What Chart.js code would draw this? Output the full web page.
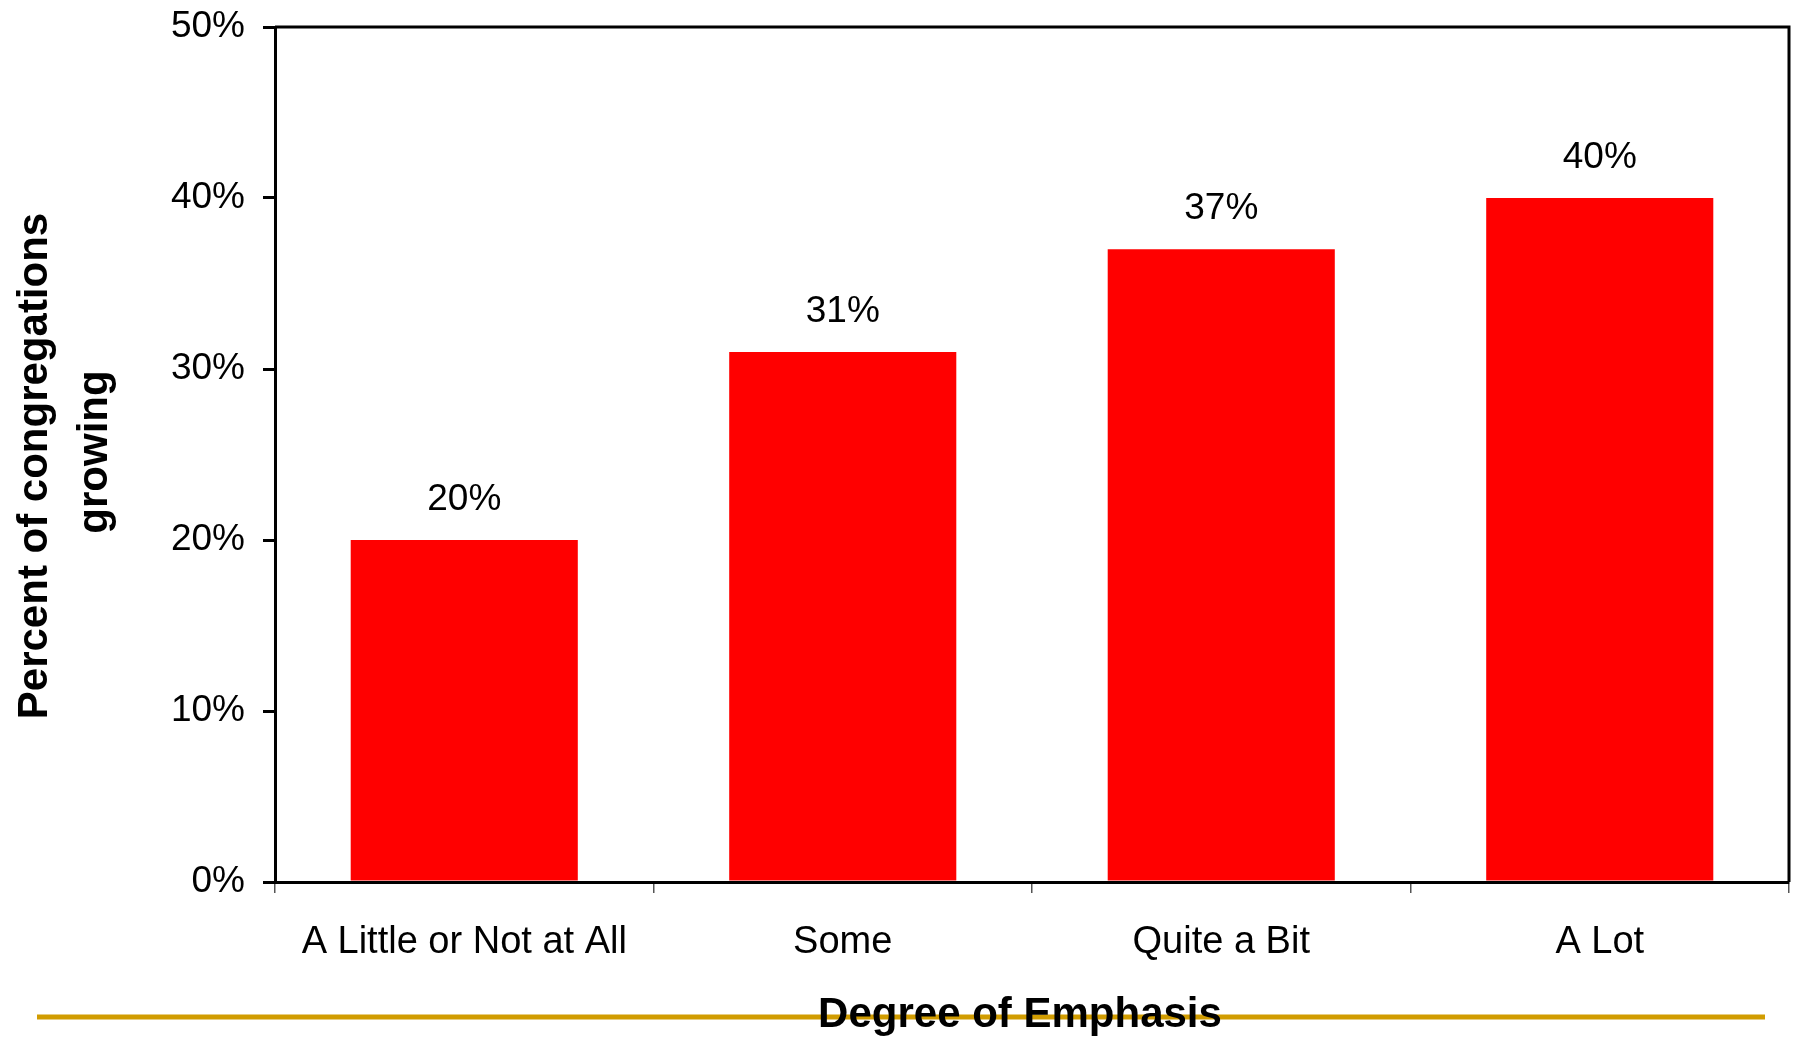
<!DOCTYPE html>
<html>
<head>
<meta charset="utf-8">
<title>Percent of congregations growing</title>
<script src="https://cdn.jsdelivr.net/npm/chart.js@4/dist/chart.umd.min.js"></script>
<style>
  html, body { margin: 0; padding: 0; background: #ffffff; }
  #chartBox { width: 1793px; height: 1039px; }
</style>
</head>
<body>
<div id="chartBox"><canvas id="growthChart" width="1793" height="1039"></canvas></div>
<script>
/**
 * Congregation growth by degree of emphasis
 */

// Data
const CATEGORIES = ['A Little or Not at All', 'Some', 'Quite a Bit', 'A Lot'];
const GROWING_PCT = [20, 31, 37, 40];
const Y_TICKS = [0, 10, 20, 30, 40, 50];

// Axis titles
const X_TITLE = 'Degree of Emphasis';
const Y_TITLE = ['Percent of congregations', 'growing'];

const FONT_FAMILY = '"Liberation Sans", Arial, Helvetica, sans-serif';
const BAR_COLOR = '#FF0000';
const RULE_COLOR = '#D19C00';

/**
 * Draws the gold rule behind everything else
 */
const goldRulePlugin = {
  id: 'goldRule',
  beforeDraw(chart) {
    const ctx = chart.ctx;
    ctx.save();
    ctx.strokeStyle = RULE_COLOR;
    ctx.lineWidth = 5;
    ctx.beginPath();
    ctx.moveTo(37, 1017);
    ctx.lineTo(1765, 1017);
    ctx.stroke();
    ctx.restore();
  }
};

/**
 * Frame round the plot area (top and right edges)
 */
const frameBorderPlugin = {
  id: 'frameBorder',
  afterDraw(chart) {
    const { ctx, chartArea } = chart;
    ctx.save();
    ctx.strokeStyle = '#000000';
    ctx.lineWidth = 3;
    ctx.beginPath();
    ctx.moveTo(chartArea.left, chartArea.top);
    ctx.lineTo(chartArea.right, chartArea.top);
    ctx.lineTo(chartArea.right, chartArea.bottom);
    ctx.stroke();
    ctx.restore();
  }
};

/**
 * Axis titles, placed where the original slide has them
 */
const axisTitlePlugin = {
  id: 'axisTitles',
  afterDraw(chart) {
    const ctx = chart.ctx;
    ctx.save();
    ctx.fillStyle = '#000000';
    ctx.font = `bold 42px ${FONT_FAMILY}`;
    ctx.textAlign = 'center';
    ctx.textBaseline = 'alphabetic';

    // x title sits on the gold rule
    ctx.fillText(X_TITLE, 1020, 1027);

    // y title, two rotated lines
    const anchors = [[47, 466], [107, 452]];
    Y_TITLE.forEach((line, i) => {
      ctx.save();
      ctx.translate(anchors[i][0], anchors[i][1]);
      ctx.rotate(-Math.PI / 2);
      ctx.fillText(line, 0, 0);
      ctx.restore();
    });
    ctx.restore();
  }
};

/**
 * Value labels above each bar
 */
const barValuePlugin = {
  id: 'barValues',
  afterDatasetsDraw(chart) {
    const ctx = chart.ctx;
    const meta = chart.getDatasetMeta(0);
    ctx.save();
    ctx.fillStyle = '#000000';
    ctx.font = `37px ${FONT_FAMILY}`;
    ctx.textAlign = 'center';
    ctx.textBaseline = 'alphabetic';
    meta.data.forEach((bar, i) => {
      ctx.fillText(GROWING_PCT[i] + '%', bar.x, bar.y - 30);
    });
    ctx.restore();
  }
};

function buildChart() {
  const ctx = document.getElementById('growthChart').getContext('2d');

  new Chart(ctx, {
    type: 'bar',
    data: {
      labels: CATEGORIES,
      datasets: [{
        label: 'Percent of congregations growing',
        data: GROWING_PCT,
        backgroundColor: BAR_COLOR,
        borderWidth: 0,
        categoryPercentage: 1.0,
        barPercentage: 0.6
      }]
    },
    options: {
      responsive: false,
      animation: false,
      devicePixelRatio: 1,
      layout: {
        padding: { top: 27, right: 4, bottom: 0, left: 0 }
      },
      plugins: {
        legend: { display: false },
        tooltip: { enabled: false },
        title: { display: false }
      },
      scales: {
        x: {
          grid: {
            drawOnChartArea: false,
            tickLength: 11,
            color: '#555555',
            lineWidth: 1.5
          },
          border: { color: '#000000', width: 3 },
          ticks: {
            color: '#000000',
            padding: 27,
            maxRotation: 0,
            font: { family: FONT_FAMILY, size: 38 }
          },
          afterFit(scale) {
            scale.height = 157;
          }
        },
        y: {
          min: 0,
          max: 50,
          afterBuildTicks(scale) {
            scale.ticks = Y_TICKS.map(v => ({ value: v }));
          },
          grid: {
            drawOnChartArea: false,
            tickLength: 12,
            color: '#000000',
            lineWidth: 3
          },
          border: { color: '#000000', width: 3 },
          ticks: {
            color: '#000000',
            padding: 18,
            font: { family: FONT_FAMILY, size: 37 },
            callback: value => value + '%'
          },
          afterFit(scale) {
            scale.width = 275;
            // let the layout padding decide the plot top
            scale.paddingTop = 0;
            scale.paddingBottom = 0;
          }
        }
      }
    },
    plugins: [goldRulePlugin, frameBorderPlugin, barValuePlugin, axisTitlePlugin]
  });
}

document.addEventListener('DOMContentLoaded', buildChart);
</script>
</body>
</html>
